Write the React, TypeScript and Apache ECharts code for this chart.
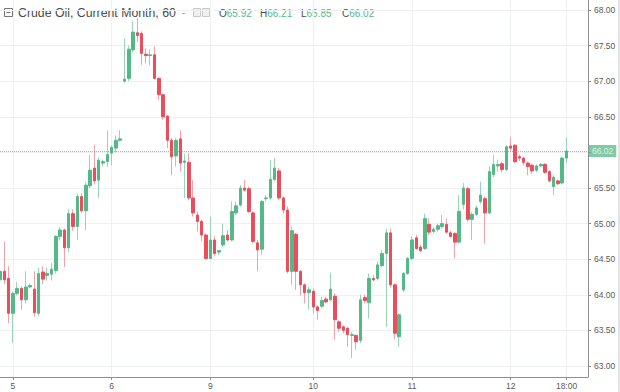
import React, { useEffect, useRef } from "react";
import * as echarts from "echarts";

// ---- data (hourly candles) ----
const openP = [
  64.21, 64.33, 64.23, 63.74, 64.02, 64.09, 63.93, 64.11, 64.08, 63.74,
  64.32, 64.27, 64.29, 64.34, 64.82, 64.91, 64.66, 65.14, 64.96, 65.38,
  65.18, 65.53, 65.78, 65.61, 65.85, 65.87, 65.99, 66.06, 66.17, 67.0,
  67.04, 67.44, 67.68, 67.67, 67.38, 67.36, 67.37, 67.04, 66.81, 66.51,
  66.17, 65.95, 66.19, 65.86, 65.86, 65.36, 65.12, 65.03, 64.84, 64.51,
  64.77, 64.6, 64.7, 64.84, 64.77, 65.15, 65.26, 65.5, 65.49, 65.15,
  64.73, 64.64, 65.35, 65.36, 65.62, 65.74, 65.36, 65.19, 64.33, 64.85,
  64.33, 64.14, 64.03, 64.05, 63.83, 63.84, 63.94, 63.93, 63.98, 63.62,
  63.55, 63.53, 63.43, 63.43, 63.36, 63.96, 63.89, 64.23, 64.23, 64.41,
  64.58, 64.87, 64.14, 63.41, 64.07, 64.3, 64.51, 64.8, 64.67, 64.65,
  64.99, 64.89, 64.92, 64.96, 64.99, 64.87, 64.86, 64.74, 65.27, 65.49,
  65.06, 65.13, 65.31, 65.35, 65.15, 65.69, 65.81, 65.84, 65.76, 66.09,
  66.1, 65.94, 65.92, 65.85, 65.82, 65.75, 65.81, 65.83, 65.73, 65.52,
  65.6, 65.57, 65.92,
];
const closeP = [
  64.33, 64.21, 63.74, 64.02, 64.09, 63.93, 64.11, 64.13, 63.75, 64.3,
  64.22, 64.3, 64.36, 64.82, 64.91, 64.66, 65.14, 64.96, 65.38, 65.18,
  65.54, 65.75, 65.6, 65.89, 65.87, 65.97, 66.07, 66.17, 66.19, 67.03,
  67.45, 67.69, 67.64, 67.39, 67.36, 67.37, 67.04, 66.81, 66.5, 66.17,
  65.94, 66.17, 65.85, 65.88, 65.36, 65.15, 65.03, 64.84, 64.51, 64.77,
  64.58, 64.62, 64.83, 64.77, 65.17, 65.25, 65.5, 65.47, 65.17, 64.75,
  64.63, 65.31, 65.36, 65.62, 65.78, 65.36, 65.19, 64.33, 64.9, 64.33,
  64.14, 64.03, 64.07, 63.83, 63.78, 63.92, 63.9, 64.08, 63.65, 63.53,
  63.5, 63.44, 63.44, 63.34, 63.93, 63.92, 64.23, 64.21, 64.42, 64.58,
  64.87, 64.14, 63.46, 63.72, 64.3, 64.51, 64.77, 64.65, 64.62, 65.07,
  64.88, 64.92, 64.97, 65.0, 64.88, 64.82, 64.74, 65.17, 65.5, 65.06,
  65.13, 65.22, 65.4, 65.15, 65.73, 65.83, 65.83, 65.76, 66.08, 66.06,
  65.87, 65.92, 65.86, 65.8, 65.74, 65.81, 65.83, 65.72, 65.6, 65.65,
  65.56, 65.92, 66.02,
];
const lowP = [
  64.1, 64.15, 63.6, 63.32, 63.99, 63.79, 63.88, 64.09, 63.69, 63.7,
  64.15, 64.2, 64.2, 64.3, 64.76, 64.39, 64.6, 64.9, 64.77, 65.15,
  64.91, 65.5, 65.55, 65.36, 65.8, 65.8, 65.82, 66.0, 66.15, 66.98,
  67.0, 67.4, 67.55, 67.23, 67.25, 67.22, 67.02, 66.74, 66.46, 66.06,
  65.68, 65.8, 65.73, 65.36, 65.33, 65.1, 64.89, 64.75, 64.49, 64.5,
  64.54, 64.56, 64.67, 64.75, 64.75, 65.12, 65.24, 65.45, 65.15, 64.72,
  64.33, 64.56, 65.31, 65.33, 65.6, 65.33, 65.14, 64.3, 64.14, 64.07,
  63.99, 63.88, 63.79, 63.74, 63.65, 63.81, 63.88, 63.91, 63.37, 63.48,
  63.46, 63.27, 63.11, 63.23, 63.32, 63.88, 63.67, 64.19, 64.2, 64.39,
  63.55, 64.1, 63.37, 63.27, 64.04, 64.28, 64.49, 64.63, 64.6, 64.63,
  64.84, 64.86, 64.89, 64.93, 64.86, 64.8, 64.51, 64.72, 65.2, 65.03,
  64.77, 65.1, 65.28, 64.72, 65.13, 65.65, 65.73, 65.72, 65.74, 66.02,
  65.85, 65.88, 65.82, 65.68, 65.7, 65.72, 65.79, 65.7, 65.58, 65.4,
  65.54, 65.55, 65.85,
];
const highP = [
  64.42, 64.75, 64.4, 64.05, 64.18, 64.12, 64.33, 64.16, 64.33, 64.38,
  64.4, 64.38, 64.45, 64.84, 64.95, 64.93, 65.2, 65.2, 65.42, 65.43,
  65.58, 65.96, 66.11, 65.93, 65.9, 66.31, 66.1, 66.24, 66.31, 67.6,
  67.5, 67.84, 67.89, 67.7, 67.46, 67.45, 67.49, 67.05, 66.82, 66.52,
  66.2, 66.2, 66.31, 65.98, 65.99, 65.61, 65.17, 65.05, 64.86, 65.1,
  64.82, 64.63, 65.0, 64.91, 65.31, 65.31, 65.54, 65.61, 65.52, 65.17,
  64.77, 65.33, 65.4, 65.89, 65.92, 65.78, 65.38, 65.24, 64.96, 64.87,
  64.35, 64.16, 64.11, 64.09, 63.85, 63.97, 63.97, 64.31, 64.02, 63.64,
  63.57, 63.55, 63.48, 63.44, 64.0, 64.0, 64.3, 64.28, 64.47, 64.63,
  64.93, 64.93, 64.16, 63.74, 64.32, 64.53, 64.82, 64.84, 64.7, 65.14,
  65.07, 64.95, 65.0, 65.12, 65.07, 64.9, 64.88, 65.4, 65.57, 65.52,
  65.16, 65.25, 65.59, 65.38, 65.8, 65.96, 65.9, 65.87, 66.1, 66.22,
  66.12, 65.97, 65.94, 65.87, 65.84, 65.83, 65.85, 65.85, 65.75, 65.68,
  65.62, 65.94, 66.21,
];

const dayTickIndex = [3, 26, 49, 73, 96, 119, 132];
const dayTickLabel = ["5", "6", "9", "10", "11", "12", "18:00"];
const emptySlots = 5;
const priceTicks = { min: 63, max: 68, step: 0.5 };
const lastPrice = 66.02;
const headerTitle = "Crude Oil, Current Month, 60";
const ohlcKeys = ["O", "H", "L", "C"];
const ohlcValues = ["65.92", "66.21", "65.85", "66.02"];

const UP = "#53b987";
const DOWN = "#eb4d5c";
const UP_WICK = "#9ad4b7";
const DOWN_WICK = "#f2a1a9";
const GRIDC = "#eef1f4";
const AXISC = "#8f8f8f";
const TXT = "#4a4a4a";
const AXTXT = "#5a5a5a";
const FONT = "'Liberation Sans', Arial, sans-serif";

export default function App() {
  const ref = useRef<HTMLDivElement>(null);
  useEffect(() => {
    document.body.style.margin = "0";
    if (!ref.current) return;
    const chart = echarts.init(ref.current, undefined, { renderer: "svg" });
    const n = openP.length + emptySlots;
    const cats = Array.from({ length: n }, (_, i) => String(i));
    const isTick = (i: number) => dayTickIndex.indexOf(i) >= 0;
    const fullCandles = openP.map((o, i) => [o, closeP[i], lowP[i], highP[i]]);
    const bodyOnly = openP.map((o, i) => [o, closeP[i], Math.min(o, closeP[i]), Math.max(o, closeP[i])]);

    const graphics: any[] = [
      { type: "rect", shape: { x: 4.5, y: 8.5, width: 8, height: 8 }, style: { fill: "none", stroke: "#777", lineWidth: 1 } },
      { type: "line", shape: { x1: 6.5, y1: 12.5, x2: 10.5, y2: 12.5 }, style: { stroke: "#777", lineWidth: 1 } },
      { type: "text", x: 18, y: 13, style: { text: headerTitle, fill: TXT, font: `12.3px ${FONT}`, verticalAlign: "middle" } },
      { type: "line", shape: { x1: 182, y1: 13.5, x2: 185, y2: 13.5 }, style: { stroke: "#aaa", lineWidth: 1 } },
      { type: "rect", shape: { x: 193.5, y: 8.5, width: 7, height: 8 }, style: { fill: "#f0f0f0", stroke: "#c8c8c8", lineWidth: 1 } },
      { type: "rect", shape: { x: 202.5, y: 8.5, width: 7, height: 8 }, style: { fill: "#f0f0f0", stroke: "#c8c8c8", lineWidth: 1 } },
      { type: "rect", shape: { x: 618, y: 0, width: 2, height: 392 }, style: { fill: "#e4e4e4" } },
    ];
    ohlcKeys.forEach((k, i) => {
      graphics.push({
        type: "text", x: 219 + i * 41, y: 13,
        style: {
          text: `{k|${k}}{v|${ohlcValues[i]}}`, verticalAlign: "middle",
          rich: {
            k: { fill: TXT, font: `10px ${FONT}` },
            v: { fill: UP, font: `10px ${FONT}` },
          },
        },
      });
    });

    chart.setOption({
      animation: false,
      grid: [
        { left: 0, right: 32, top: 0, bottom: 15 },
        { left: 0, right: 32, top: 10, bottom: 26 },
      ],
      xAxis: [
        {
          type: "category", gridIndex: 0, data: cats, boundaryGap: false,
          axisLine: { show: true, lineStyle: { color: AXISC, width: 1 } },
          axisTick: { show: true, interval: (i: number) => isTick(i), length: 3, lineStyle: { color: AXISC } },
          axisLabel: {
            interval: (i: number) => isTick(i), margin: 4, color: AXTXT, fontSize: 8.5, fontFamily: FONT,
            formatter: (_v: string, i: number) => dayTickLabel[dayTickIndex.indexOf(i)] ?? "",
          },
          splitLine: { show: true, interval: (i: number) => isTick(i), lineStyle: { color: GRIDC, width: 1 } },
        },
        { type: "category", gridIndex: 1, data: cats, boundaryGap: false, show: false },
      ],
      yAxis: [
        {
          type: "value", gridIndex: 0, position: "right", min: 0, max: 1,
          axisLine: { show: true, lineStyle: { color: AXISC, width: 1 } },
          axisTick: { show: false }, axisLabel: { show: false }, splitLine: { show: false },
        },
        {
          type: "value", gridIndex: 1, position: "right",
          min: priceTicks.min, max: priceTicks.max, interval: priceTicks.step,
          axisLine: { show: false },
          axisTick: { show: true, length: 3, lineStyle: { color: AXISC } },
          axisLabel: {
            color: AXTXT, fontSize: 8.5, fontFamily: FONT, margin: 6,
            formatter: (v: number) => (Math.abs(v - lastPrice) < 0.1 ? "" : v.toFixed(2)),
          },
          splitLine: { show: true, lineStyle: { color: GRIDC, width: 1 } },
        },
      ],
      series: [
        {
          type: "candlestick", name: "wicks", xAxisIndex: 1, yAxisIndex: 1, data: fullCandles, barWidth: 1,
          itemStyle: { color: UP_WICK, color0: DOWN_WICK, borderColor: UP_WICK, borderColor0: DOWN_WICK, borderWidth: 1 },
          z: 2,
        },
        {
          type: "candlestick", name: "bodies", xAxisIndex: 1, yAxisIndex: 1, data: bodyOnly, barWidth: 3,
          itemStyle: { color: UP, color0: DOWN, borderColor: UP, borderColor0: DOWN, borderWidth: 1 },
          z: 3,
          markLine: {
            silent: true, symbol: "none", animation: false,
            data: [{ yAxis: lastPrice }],
            lineStyle: { color: UP, type: [1, 1], width: 1, opacity: 0.75 },
            label: {
              position: "end", distance: 1, formatter: lastPrice.toFixed(2),
              backgroundColor: UP, color: "#fff", fontSize: 8.5, fontFamily: FONT, padding: [2, 3, 1, 3],
            },
          },
        },
      ],
      graphic: graphics,
    });
    return () => chart.dispose();
  }, []);
  return (
    <div
      ref={ref}
      style={{ position: "fixed", left: 0, top: 0, width: 620, height: 392, background: "#fff" }}
    />
  );
}
